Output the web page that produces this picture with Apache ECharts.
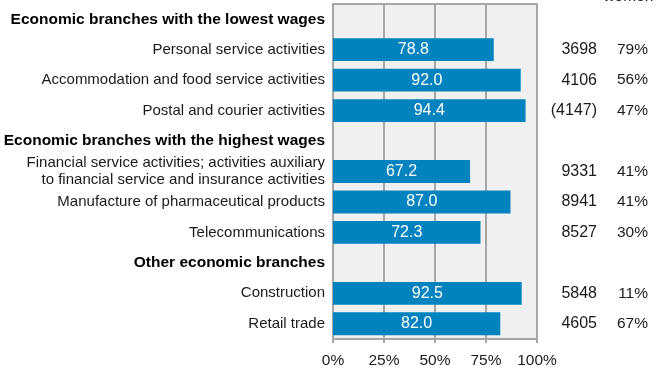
<!DOCTYPE html>
<html>
<head>
<meta charset="utf-8">
<script src="https://cdn.jsdelivr.net/npm/echarts@6/dist/echarts.min.js"></script>
<style>
  html, body { margin: 0; padding: 0; background: #fff; }
  #chart { width: 670px; height: 372px; }
</style>
</head>
<body>
<div id="chart"></div>
<script>
// Branch rows, top to bottom; group headings carry no bar
const categories = [
  'Economic branches with the lowest wages',
  'Personal service activities',
  'Accommodation and food service activities',
  'Postal and courier activities',
  'Economic branches with the highest wages',
  'Financial service activities; activities auxiliary\nto financial service and insurance activities',
  'Manufacture of pharmaceutical products',
  'Telecommunications',
  'Other economic branches',
  'Construction',
  'Retail trade'
];
const headings = [
  'Economic branches with the lowest wages',
  'Economic branches with the highest wages',
  'Other economic branches'
];
const ratioValues = [null, 78.8, 92.0, 94.4, null, 67.2, 87.0, 72.3, null, 92.5, 82.0];
const wageLabels = ['', '3698', '4106', '(4147)', '', '9331', '8941', '8527', '', '5848', '4605'];
const womenShareLabels = ['', '79%', '56%', '47%', '', '41%', '41%', '30%', '', '11%', '67%'];
const xTicks = { min: 0, max: 100, interval: 25 };

const FONT = '"Liberation Sans", Arial, sans-serif';
const TEXT = '#1a1a1a';
const LINE = '#a6a6a6';

const chart = echarts.init(document.getElementById('chart'), null, { renderer: 'canvas' });

const sideAxis = (labels, margin, size) => ({
  type: 'category',
  inverse: true,
  position: 'right',
  data: labels,
  axisLine: { show: false },
  axisTick: { show: false },
  splitLine: { show: false },
  axisLabel: {
    margin: margin,
    align: 'right',
    color: TEXT,
    fontFamily: FONT,
    fontSize: size,
    interval: 0
  }
});

chart.setOption({
  animation: false,
  title: {
    text: 'Share of\nwomen',
    right: 3,
    top: -34,
    textStyle: { fontFamily: FONT, fontSize: 15.5, fontWeight: 'normal', color: TEXT, lineHeight: 17, align: 'right' }
  },
  grid: {
    left: 333,
    right: 133,
    top: 4,
    bottom: 33,
    show: true,
    backgroundColor: '#f0f0f0',
    borderColor: LINE,
    borderWidth: 2
  },
  xAxis: {
    type: 'value',
    min: xTicks.min,
    max: xTicks.max,
    interval: xTicks.interval,
    axisLine: { show: true, lineStyle: { color: LINE, width: 2 } },
    axisTick: { show: true, length: 4, lineStyle: { color: LINE, width: 2 } },
    splitLine: { show: true, lineStyle: { color: LINE, width: 2 } },
    axisLabel: {
      formatter: '{value}%',
      color: TEXT,
      fontFamily: FONT,
      fontSize: 15.5,
      margin: 14
    }
  },
  yAxis: [
    {
      type: 'category',
      inverse: true,
      data: categories,
      axisLine: { show: false },
      axisTick: { show: false },
      splitLine: { show: false },
      axisLabel: {
        interval: 0,
        margin: 8,
        align: 'right',
        color: TEXT,
        fontFamily: FONT,
        fontSize: 15,
        lineHeight: 17,
        formatter: v => headings.includes(v) ? '{h|' + v + '}' : v,
        rich: {
          h: { fontFamily: FONT, fontSize: 15.5, fontWeight: 'bold', color: '#000' }
        }
      }
    },
    sideAxis(wageLabels, 60, 16),
    sideAxis(womenShareLabels, 111, 15.5)
  ],
  series: [{
    type: 'bar',
    yAxisIndex: 0,
    data: ratioValues,
    barCategoryGap: '25%',
    itemStyle: { color: '#0083be' },
    label: {
      show: true,
      position: 'inside',
      color: '#fff',
      fontFamily: FONT,
      fontSize: 16,
      formatter: p => p.value == null ? '' : p.value.toFixed(1)
    }
  }]
});
</script>
</body>
</html>
